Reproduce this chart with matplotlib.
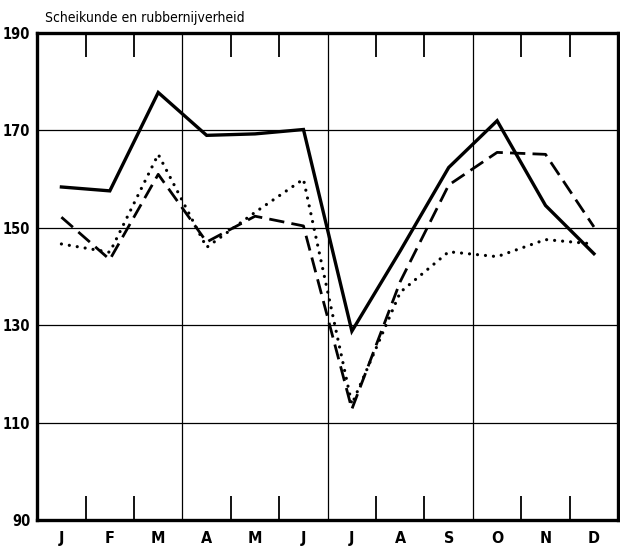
import matplotlib
matplotlib.use("Agg")
import matplotlib.pyplot as plt
from matplotlib.ticker import FixedLocator

plt.rcParams['font.family'] = ['DejaVu Sans']
plt.rcParams['font.stretch'] = 'condensed'

months = ["J", "F", "M", "A", "M", "J", "J", "A", "S", "O", "N", "D"]
solid = [158.4, 157.6, 177.8, 169.0, 169.3, 170.2, 128.8, 145.3, 162.4, 172.0, 154.6, 144.7]
dashed = [152.2, 143.5, 161.0, 147.1, 152.4, 150.4, 112.8, 139.0, 158.8, 165.5, 165.1, 150.2]
dotted = [146.7, 145.0, 165.1, 146.0, 153.2, 160.0, 113.8, 136.8, 145.1, 144.1, 147.6, 146.7]
yticks = [90, 110, 130, 150, 170, 190]
title = "Scheikunde en rubbernijverheid"

fig = plt.figure(figsize=(6.2, 5.51), dpi=100)
ax = fig.add_axes([0.06, 0.056, 0.937, 0.884])

x = list(range(len(months)))
ax.plot(x, solid, color="black", lw=2.4, solid_joinstyle="miter")
ax.plot(x, dashed, color="black", lw=2.0, dashes=(5.5, 2.6))
ax.plot(x, dotted, color="black", lw=2.3, dashes=(0.01, 2.5), dash_capstyle="round")

ax.set_xlim(-0.5, 11.5)
ax.set_ylim(90, 190)

# horizontal and quarterly vertical grid
for v in [110, 130, 150, 170]:
    ax.axhline(v, color="black", lw=0.9, zorder=0)
for q in [2.5, 5.5, 8.5]:
    ax.axvline(q, color="black", lw=0.9, zorder=0)

ax.set_xticks(x)
ax.set_xticklabels(months, fontsize=11.5, fontweight="bold")
ax.xaxis.set_minor_locator(FixedLocator([0.5, 1.5, 3.5, 4.5, 6.5, 7.5, 9.5, 10.5]))
ax.tick_params(axis="x", which="major", length=0, pad=8)
ax.tick_params(axis="x", which="minor", direction="in", length=17, width=1.3,
               top=True, bottom=True)

ax.set_yticks(yticks)
ax.set_yticklabels([str(v) for v in yticks], fontsize=10.5, fontweight="bold")
ax.tick_params(axis="y", length=0, pad=5)

for s in ax.spines.values():
    s.set_linewidth(2.4)

fig.text(0.072, 0.968, title, fontsize=10, ha="left", va="center")

fig.savefig("out.png", dpi=100)
